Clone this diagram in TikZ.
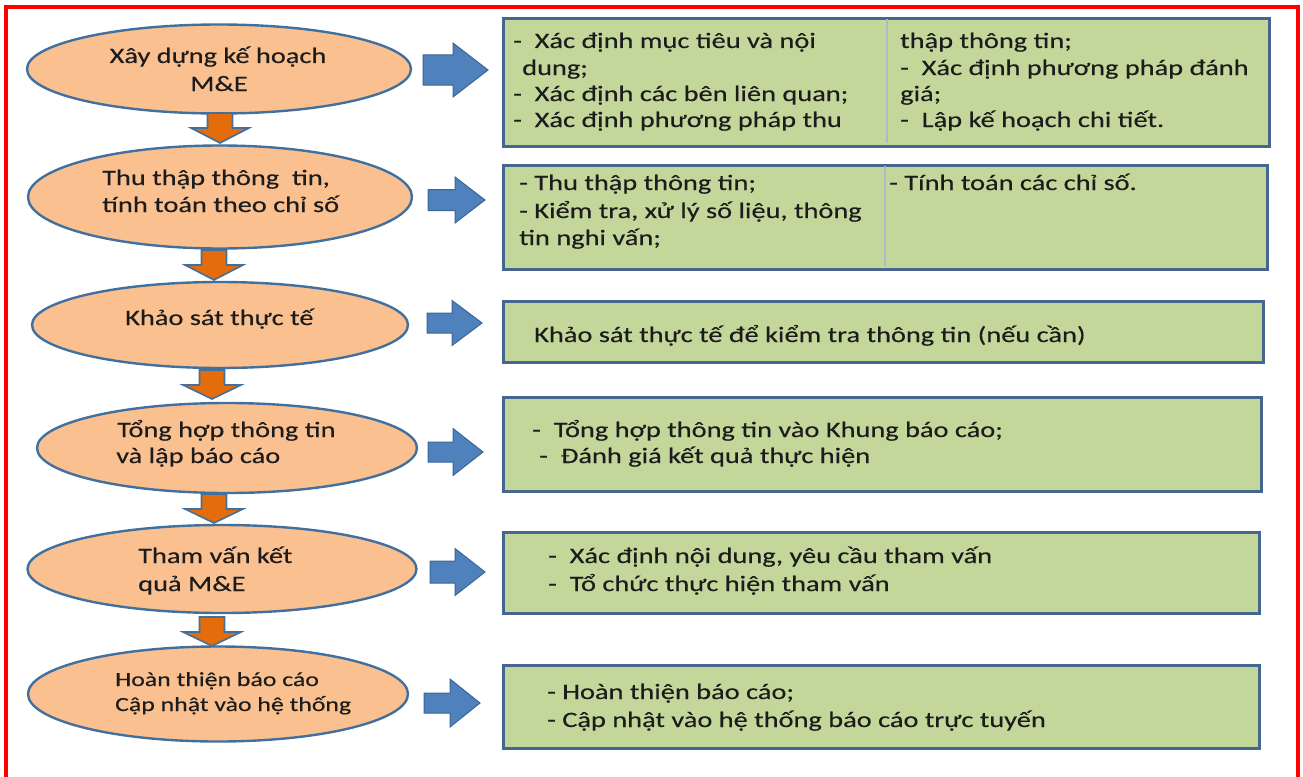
\documentclass[tikz,border=0pt]{standalone}
\usepackage{fontspec}
\setmainfont{Carlito}[FakeStretch=1.29,FakeBold=0.3]
\usetikzlibrary{shapes.geometric,shadows}
\definecolor{framered}{HTML}{FF0000}
\definecolor{ellfill}{HTML}{FAC090}
\definecolor{ellline}{HTML}{41709F}
\definecolor{boxfill}{HTML}{C4D79B}
\definecolor{boxline}{HTML}{46668F}
\definecolor{divline}{HTML}{A9BACB}
\definecolor{bluearr}{HTML}{4F81BD}
\definecolor{bluearrline}{HTML}{3C6696}
\definecolor{orangearr}{HTML}{E46C0A}
\definecolor{textc}{HTML}{1C1C1C}
\newcommand\myRarrow[6]{% x, y, len, headlen, shaft, head
  \fill[bluearr, draw=bluearrline, line width=1pt, line join=miter]
    (#1,{#2-#5/2}) -- ({#1+#3-#4},{#2-#5/2}) -- ({#1+#3-#4},{#2-#6/2}) --
    ({#1+#3},#2) -- ({#1+#3-#4},{#2+#6/2}) -- ({#1+#3-#4},{#2+#5/2}) --
    (#1,{#2+#5/2}) -- cycle;}
\newcommand\myDarrow[6]{% cx, top, tip, headlen, shaft, head
  \fill[orangearr, draw=ellline, line width=1.6pt, line join=miter]
    ({#1-#5/2},#2) -- ({#1+#5/2},#2) -- ({#1+#5/2},{#3-#4}) --
    ({#1+#6/2},{#3-#4}) -- (#1,#3) -- ({#1-#6/2},{#3-#4}) --
    ({#1-#5/2},{#3-#4}) -- cycle;}
\tikzset{
  ell/.style={ellipse, draw=ellline, fill=ellfill, line width=2.4pt, inner sep=0pt},
  gbox/.style={rectangle, draw=boxline, fill=boxfill, line width=2.8pt, inner sep=0pt, anchor=north west,
    drop shadow={opacity=0.25, shadow xshift=1.5pt, shadow yshift=-1.5pt}},
  txt/.style={anchor=base west, inner sep=0pt, text=textc, font=\fontsize{22}{26}\selectfont},
  ctxt/.style={anchor=base, inner sep=0pt, text=textc, font=\fontsize{22}{26}\selectfont},
  stxt/.style={anchor=base west, inner sep=0pt, text=textc, font=\fontsize{20}{24}\selectfont},
  divider/.style={draw=divline, line width=1.2pt},
}
\begin{document}
\begin{tikzpicture}[x=1pt,y=-1pt]
\useasboundingbox (0,0) rectangle (1303,776);
% red frame
\draw[framered, line width=3.2pt] (6,790) -- (6,7) -- (1298,7) -- (1298,790);

% ellipses
\node[ell, minimum width=384pt, minimum height=89pt] (e1) at (219,69) {};
\node[ell, minimum width=384pt, minimum height=103pt] (e2) at (220,197) {};
\node[ell, minimum width=376pt, minimum height=86pt] (e3) at (220,325) {};
\node[ell, minimum width=380pt, minimum height=90pt] (e4) at (227,448) {};
\node[ell, minimum width=389pt, minimum height=88pt] (e5) at (222,569) {};
\node[ell, minimum width=380pt, minimum height=95pt] (e6) at (218,694) {};

% ellipse texts
\node[ctxt] (e1a) at (218,63) {Xây dựng kế hoạch};
\node[ctxt] (e1b) at (219,91) {M\&E};
\node[txt] (e2a) at (102,185) {Thu thập thông\ \ tin,};
\node[txt] (e2b) at (102,212) {tính toán theo chỉ số};
\node[txt] (e3a) at (125,325) {Khảo sát thực tế};
\node[txt] (e4a) at (117,437) {Tổng hợp thông tin};
\node[txt] (e4b) at (116,463) {và lập báo cáo};
\node[txt] (e5a) at (138,563) {Tham vấn kết};
\node[txt] (e5b) at (138,591) {quả M\&E};
\node[stxt] (e6a) at (115,686) {Hoàn thiện báo cáo};
\node[stxt] (e6b) at (115,711) {Cập nhật vào hệ thống};

% down arrows
\myDarrow{220}{113}{143}{15}{25}{58}
\myDarrow{214}{250}{280}{15}{25}{58}
\myDarrow{212}{370}{399}{14}{25}{58}
\myDarrow{214}{494}{523}{14}{25}{58}
\myDarrow{212}{617}{646}{14}{25}{58}

% right arrows
\myRarrow{423}{70}{65}{35}{30}{54}
\myRarrow{428}{200}{57}{30}{21}{46}
\myRarrow{427}{323}{55}{30}{20}{45}
\myRarrow{428}{452}{55}{30}{20}{47}
\myRarrow{430}{572}{55}{30}{22}{47}
\myRarrow{424}{703}{56}{30}{20}{48}

% boxes
\node[gbox, minimum width=766pt, minimum height=128pt] (b1) at (502,17) {};
\node[gbox, minimum width=764pt, minimum height=104pt] (b2) at (502,164) {};
\node[gbox, minimum width=760pt, minimum height=61pt] (b3) at (502,300) {};
\node[gbox, minimum width=758pt, minimum height=94pt] (b4) at (502,396) {};
\node[gbox, minimum width=756pt, minimum height=81pt] (b5) at (502,531) {};
\node[gbox, minimum width=756pt, minimum height=83pt] (b6) at (502,664) {};
\draw[divider] (887,19) -- (887,143);
\draw[divider] (885,166) -- (885,266);

% box texts
\node[txt] (t1a) at (513,48) {-~~Xác định mục tiêu và nội};
\node[txt] (t1b) at (522,75) {dung;};
\node[txt] (t1c) at (513,101) {-~~Xác định các bên liên quan;};
\node[txt] (t1d) at (513,127) {-~~Xác định phương pháp thu};
\node[txt] (t1e) at (900,48) {thập thông tin;};
\node[txt] (t1f) at (900,75) {-~~Xác định phương pháp đánh};
\node[txt] (t1g) at (900,101) {giá;};
\node[txt] (t1h) at (900,127) {-~~Lập kế hoạch chi tiết.};

\node[txt] (t2a) at (519,190) {- Thu thập thông tin;};
\node[txt] (t2b) at (519,218) {- Kiểm tra, xử lý số liệu, thông};
\node[txt] (t2c) at (519,245) {tin nghi vấn;};
\node[txt] (t2d) at (889,190) {- Tính toán các chỉ số.};

\node[txt] (t3a) at (534,342) {Khảo sát thực tế để kiểm tra thông tin (nếu cần)};

\node[txt] (t4a) at (532,437) {-~~Tổng hợp thông tin vào Khung báo cáo;};
\node[txt] (t4b) at (539,463) {-~~Đánh giá kết quả thực hiện};

\node[txt] (t5a) at (548,563) {-~~Xác định nội dung, yêu cầu tham vấn};
\node[txt] (t5b) at (548,591) {-~~Tổ chức thực hiện tham vấn};

\node[txt] (t6a) at (547,699) {- Hoàn thiện báo cáo;};
\node[txt] (t6b) at (547,727) {- Cập nhật vào hệ thống báo cáo trực tuyến};
\end{tikzpicture}
\end{document}
